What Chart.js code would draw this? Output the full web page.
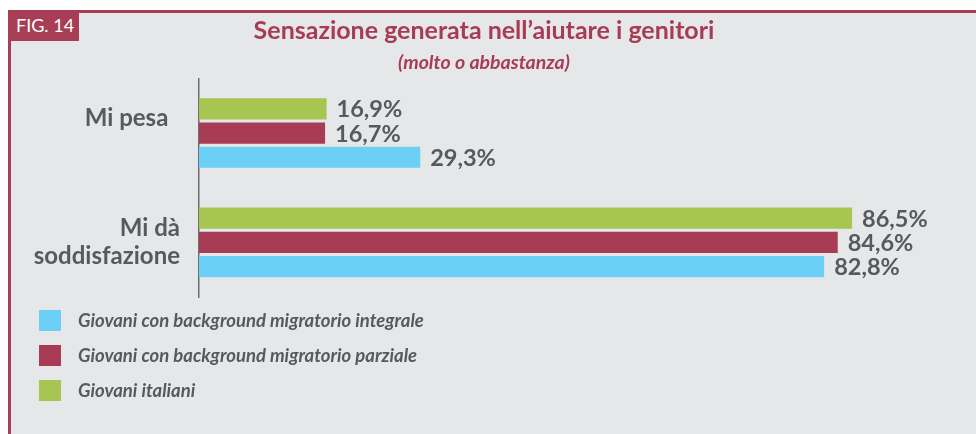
<!DOCTYPE html>
<html lang="it">
<head>
<meta charset="UTF-8">
<title>Sensazione generata nell'aiutare i genitori</title>
<script src="https://cdn.jsdelivr.net/npm/chart.js"></script>
<style>
    html, body { margin: 0; padding: 0; background: #fff; }
    body { width: 976px; height: 434px; position: relative; overflow: hidden; font-family: Lato, "Open Sans", sans-serif; }
    #panel {
        position: absolute; left: 8px; top: 10px; right: 0; bottom: 0;
        background: #e6e7e9;
        border-top: 3px solid #a83e55;
        border-left: 3px solid #a83e55;
    }
    #fig {
        position: absolute; left: 8px; top: 10px; width: 71px; height: 31px;
        background: #a83e55; color: #fff; font-size: 18px; line-height: 31px;
        padding-left: 8px; box-sizing: border-box;
    }
    #chart-box { position: absolute; left: 0; top: 0; width: 968px; height: 434px; }
    #legend { position: absolute; left: 39px; top: 310px; }
    .item { height: 35px; position: relative; }
    .swatch { position: absolute; left: 0; top: 0; width: 22px; height: 21px; }
    .label {
        position: absolute; left: 39px; top: 0; line-height: 21px; white-space: nowrap;
        font-size: 18.5px; font-weight: bold; font-style: italic; color: #58595b;
    }
</style>
</head>
<body>
<div id="panel"></div>
<div id="fig">FIG. 14</div>
<div id="chart-box"><canvas id="chart"></canvas></div>
<div id="legend"></div>
<script>
    // data
    const categories = [["Mi pesa  ", ""], ["Mi dà", "soddisfazione"]];
    const italiani = [16.9, 86.5];
    const parziale = [16.7, 84.6];
    const integrale = [29.3, 82.8];

    const seriesNames = [
        "Giovani italiani",
        "Giovani con background migratorio parziale",
        "Giovani con background migratorio integrale"
    ];
    const seriesColors = ["#a6c551", "#a83c55", "#6bcff6"];
    const grey = "#58595b";

    const valueLabels = {
        id: "valueLabels",
        afterDatasetsDraw(chart) {
            const ctx = chart.ctx;
            ctx.save();
            ctx.font = "bold 23.5px Lato";
            ctx.fillStyle = grey;
            ctx.textAlign = "left";
            ctx.textBaseline = "middle";
            chart.data.datasets.forEach((ds, i) => {
                chart.getDatasetMeta(i).data.forEach((bar, j) => {
                    const txt = ds.data[j].toFixed(1).replace(".", ",") + "%";
                    ctx.fillText(txt, bar.x + 10, bar.y + 1);
                });
            });
            ctx.restore();
        }
    };

    const chart = new Chart(document.getElementById("chart"), {
        type: "bar",
        data: {
            labels: categories,
            datasets: [italiani, parziale, integrale].map((d, i) => ({
                label: seriesNames[i],
                data: d,
                backgroundColor: seriesColors[i],
                categoryPercentage: 0.664,
                barPercentage: 0.875
            }))
        },
        options: {
            indexAxis: "y",
            responsive: true,
            maintainAspectRatio: false,
            animation: false,
            layout: { padding: { top: 0, right: 14, bottom: 137, left: 14 } },
            plugins: {
                legend: { display: false },
                tooltip: { enabled: false },
                title: {
                    display: true,
                    text: "Sensazione generata nell\u2019aiutare i genitori",
                    color: "#a83c55",
                    font: { family: "Lato", size: 25, weight: "bold" },
                    padding: { top: 16, bottom: 0 }
                },
                subtitle: {
                    display: true,
                    text: "(molto o abbastanza)",
                    color: "#a83c55",
                    font: { family: "Lato", size: 19.5, weight: "bold", style: "italic" },
                    padding: { top: 5, bottom: 4 }
                }
            },
            scales: {
                x: { display: false, min: 0, max: 100 },
                y: {
                    grid: { display: false, drawTicks: false },
                    border: { display: true, color: "#6d6e71", width: 1.5 },
                    ticks: {
                        color: grey,
                        padding: 19,
                        font: { family: "Lato", size: 24, weight: "bold" }
                    },
                    afterFit(scale) { scale.width = 185; }
                }
            }
        },
        plugins: [valueLabels]
    });

    // legend, listed in the reverse of drawing order
    const legend = document.getElementById("legend");
    for (let i = seriesNames.length - 1; i >= 0; i--) {
        const row = document.createElement("div");
        row.className = "item";
        row.innerHTML = '<div class="swatch" style="background:' + seriesColors[i] + '"></div>' +
            '<div class="label">' + seriesNames[i] + '</div>';
        legend.appendChild(row);
    }
</script>
</body>
</html>
